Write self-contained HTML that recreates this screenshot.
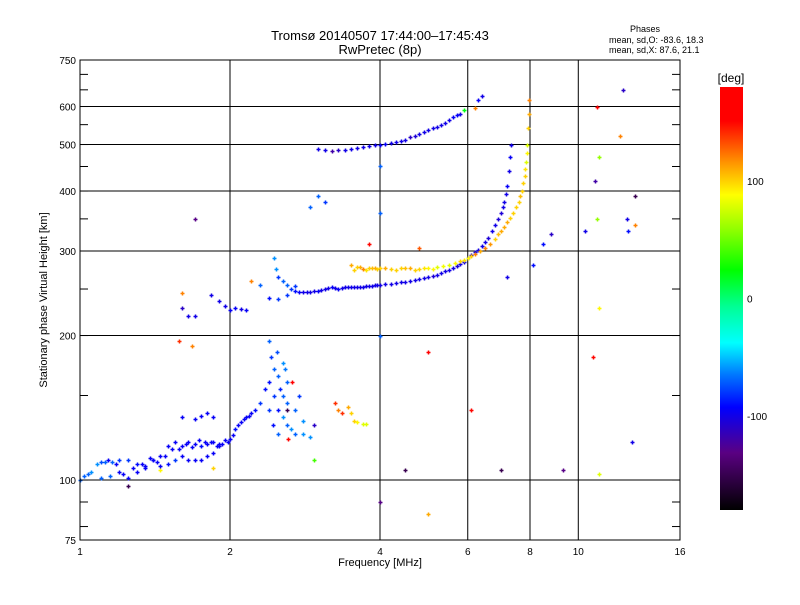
<!DOCTYPE html>
<html><head><meta charset="utf-8"><style>
body{margin:0;background:#fff;}
svg text{font-family:"Liberation Sans",sans-serif;fill:#000;}
</style></head><body>
<svg id="c" width="800" height="600" xmlns="http://www.w3.org/2000/svg">
<rect width="800" height="600" fill="#fff"/>
<text x="380" y="40" font-size="13" text-anchor="middle">Tromsø 20140507 17:44:00–17:45:43</text>
<text x="380" y="54" font-size="13" text-anchor="middle">RwPretec (8p)</text>
<text x="645" y="32" font-size="9" text-anchor="middle">Phases</text>
<text x="609" y="43" font-size="9">mean, sd,O: -83.6, 18.3</text>
<text x="609" y="53" font-size="9">mean, sd,X:  87.6, 21.1</text>
<g id="grid"></g>
<g id="pts"></g>
<rect x="80" y="60" width="600" height="480" fill="none" stroke="#000" stroke-width="1"/>
<g id="axes"></g>
<text x="380" y="566" font-size="11" text-anchor="middle">Frequency [MHz]</text>
<text transform="translate(47,300) rotate(-90)" font-size="11" text-anchor="middle">Stationary phase Virtual Height [km]</text>
<defs><linearGradient id="cg" x1="0" y1="1" x2="0" y2="0"></linearGradient></defs>
<rect x="720" y="87" width="23" height="423" fill="url(#cg)"/>
<text x="731" y="82" font-size="12" text-anchor="middle">[deg]</text>
<g id="cbax"></g>
</svg>
<script>
const NS="http://www.w3.org/2000/svg";
const xTicks=[1,2,4,6,8,10,16];
const yTicks=[75,100,200,300,400,500,600,750];
const yMinor=[80,90,100,150,200,250,300,350,400,450,500,550,600,650,700];
const cbTicks=[100,0,-100];
const freq=[1.02,1.05,1.08,1.12,1.16,1.2,1.25,1.3,1.35,1.4,1.45,1.5,1.55,1.6,1.65,1.7,1.75,1.8,1.85,1.9,
1.0,1.1,1.15,1.2,1.25,1.3,1.35,1.4,1.45,1.5,1.55,1.6,1.65,1.7,1.75,1.8,1.85,1.9,1.95,2.0,2.05,2.1,2.15,2.2,
1.6,1.7,1.75,1.8,1.85,
2.4,2.42,2.45,2.4,2.5,2.45,2.55,2.5,2.6,2.35,2.4,2.55,2.6,2.65,2.7,2.8,2.9,2.7,2.75,2.6,2.55,2.3,2.5,2.62,2.8,2.95,2.66,2.6,2.48,2.52,2.58,2.44,
3.3,3.35,3.45,3.5,3.55,3.6,3.7,3.75,3.25,
2.4,2.5,2.6,2.7,2.8,2.9,3.0,3.1,3.2,3.3,3.4,3.5,3.6,3.7,3.8,3.9,4.0,4.2,4.4,4.6,4.8,5.0,5.2,5.4,5.6,5.8,6.0,6.2,6.4,6.6,6.8,7.0,7.1,7.2,7.25,7.3,7.32,
2.45,2.47,2.5,2.55,2.6,2.7,2.3,
1.83,1.9,1.95,2.0,2.05,2.1,2.15,1.65,1.7,1.6,
3.5,3.6,3.7,3.8,3.9,4.0,4.2,4.4,4.6,4.8,5.0,5.2,5.5,5.8,6.0,6.2,6.5,6.8,7.0,7.2,7.4,7.6,7.7,7.8,7.85,7.9,7.93,7.95,7.97,
3.0,3.2,3.4,3.6,3.8,4.0,4.2,4.4,4.6,4.8,5.0,5.2,5.4,5.6,5.8,5.9,6.3,6.4,6.2,
1.7,1.6,2.2,3.0,3.1,2.9,4.0,4.0,4.0,4.5,5.0,4.0,3.8,4.8,5.0,6.1,7.0,7.2,8.5,8.8,9.3,10.3,10.9,10.8,11.0,10.9,10.7,11.0,11.0,12.1,12.3,12.5,12.6,12.8,13.0,13.0,8.1,1.45,1.58,1.68,1.85,2.95,1.25,
1.04,1.1,1.14,1.18,1.22,1.28,1.33,1.38,1.43,1.48,1.53,1.58,1.63,1.68,1.73,1.78,1.83,1.88,1.93,1.98,2.03,2.08,2.13,2.18,2.25,
2.65,2.75,2.85,2.95,3.05,3.15,3.25,3.35,3.45,3.55,3.65,3.75,3.85,3.95,4.1,4.3,4.5,4.7,4.9,5.1,5.3,5.5,5.7,5.9,6.1,6.3,6.5,6.7,6.9,7.05,7.15,
3.55,3.65,3.75,3.85,3.95,4.1,4.3,4.5,4.7,4.9,5.1,5.35,5.65,5.9,6.1,6.35,6.65,6.9,7.1,7.3,7.5,7.65,7.75,7.82,7.88,
3.1,3.3,3.5,3.7,3.9,4.1,4.3,4.5,4.7,4.9,5.1,5.3,5.5,5.7];
const height=[102,104,108,109,109,110,110,108,106,110,112,118,120,118,120,119,118,119,120,119,
100,101,102,104,101,104,107,110,107,108,110,112,110,110,110,112,114,118,121,122,128,132,135,138,
135,134,136,138,135,
195,180,170,160,165,150,150,140,145,155,140,135,130,128,125,125,123,140,150,160,175,145,125,122,133,130,160,140,185,155,170,130,
140,138,142,138,133,132,131,131,145,
240,238,243,248,246,247,248,250,252,250,252,252,253,253,254,255,255,256,258,260,262,265,268,272,276,282,290,298,308,320,340,360,380,410,440,470,500,
290,275,265,260,255,254,255,
243,236,230,226,228,227,226,220,220,228,
280,278,275,276,277,276,275,276,276,275,276,278,281,286,290,296,305,318,330,345,360,380,400,430,460,500,540,580,620,
490,485,488,492,496,500,503,508,518,525,535,545,555,570,580,590,620,630,595,
350,245,260,390,380,370,450,360,200,105,85,90,310,305,185,140,105,265,310,325,105,330,600,420,470,350,180,103,228,520,650,350,330,120,390,340,280,105,195,190,106,110,97,
103,109,110,108,103,106,108,111,109,112,116,116,119,117,121,120,120,118,119,120,124,130,134,136,140,
250,247,247,248,249,251,251,251,252,252,253,254,254,255,256,257,259,261,263,266,270,274,279,285,294,302,314,330,350,370,395,
274,278,274,277,275,277,274,277,274,276,275,279,283,288,293,300,310,325,337,352,370,390,415,445,480,
487,487,490,494,498,502,505,512,521,530,540,550,562,575];
const phase=[-70,-60,-60,-70,-70,-80,-80,-90,-95,-95,-95,-95,-95,-95,-95,-95,-90,-95,-95,-95,
-70,-70,-70,-95,-95,-95,-95,-95,-95,-90,-80,-95,-95,-95,-95,-95,-95,-95,-95,-95,-90,-95,-95,-95,
-95,-95,-95,-95,-95,
-70,-80,-70,-90,-70,-80,-70,-90,-70,-90,-80,-60,-70,-60,-70,-60,-60,-70,-80,-70,-60,-80,-70,150,-60,-110,160,-150,-75,-85,-65,-90,
120,140,110,100,100,90,80,80,140,
-90,-80,-80,-90,-100,-100,-95,-100,-95,-95,-100,-100,-100,-100,-100,-100,-100,-100,-100,-100,-100,-100,-100,-100,-100,-100,-105,-100,-100,-105,-100,-105,-100,-95,-100,-95,-100,
-60,-60,-80,-70,-70,-80,-70,
-100,-100,-100,-95,-95,-100,-95,-100,-100,-110,
110,100,120,100,110,100,100,100,110,100,90,80,80,100,90,120,120,100,110,110,100,100,100,100,80,80,100,110,120,
-100,-120,-100,-100,-100,-95,-100,-100,-110,-100,-100,-100,-100,-95,-100,20,-95,-100,120,
-130,120,120,-70,-80,-70,-70,-70,-70,-150,110,-130,150,130,160,150,-150,-100,-90,-110,-130,-100,160,-120,60,60,150,80,90,120,-110,-100,-90,-100,-150,120,-90,90,140,120,100,40,-150,
-70,-75,-95,-95,-95,-95,-95,-95,-95,-95,-95,-95,-95,-95,-95,-95,-95,-95,-95,-95,-95,-95,-95,-95,-90,
-80,-95,-100,-100,-100,-100,-100,-100,-100,-100,-100,-100,-100,-100,-100,-100,-100,-100,-100,-105,-100,-100,-105,-100,-110,-100,-100,-100,-105,-100,-100,
100,110,95,105,100,110,100,105,100,95,90,85,90,95,100,110,115,105,110,100,100,105,100,95,90,
-100,-110,-100,-100,-100,-95,-100,-100,-105,-100,-100,-100,-100,-95];

const X0=80,X1=680,Y0=540,Y1=60;
function xs(f){return X0+(X1-X0)*Math.log2(f)/4;}
function ys(h){return Y0-(Y0-Y1)*Math.log10(h/75);}
function cy(p){return 510-(p+180)/360*423;}
const stops=[[0,[0,0,0]],[0.135,[90,0,130]],[0.243,[0,0,255]],[0.32,[0,120,255]],[0.395,[0,255,255]],[0.48,[0,255,150]],[0.567,[0,255,0]],[0.66,[140,255,0]],[0.745,[255,255,0]],[0.82,[255,150,0]],[0.92,[255,0,0]],[1,[255,0,0]]];
function col(p){let t=Math.max(0,Math.min(1,(p+180)/360));for(let i=1;i<stops.length;i++){if(t<=stops[i][0]){const a=stops[i-1],b=stops[i],u=(t-a[0])/(b[0]-a[0]);const c=a[1].map((v,k)=>Math.round(v+(b[1][k]-v)*u));return `rgb(${c.join(',')})`;}}return 'rgb(255,0,0)';}
function mk(tag,attrs,parent){const e=document.createElementNS(NS,tag);for(const k in attrs)e.setAttribute(k,attrs[k]);parent.appendChild(e);return e;}
const grid=document.getElementById('grid'),axes=document.getElementById('axes'),pts=document.getElementById('pts'),cbax=document.getElementById('cbax');
const cg=document.getElementById('cg');
stops.forEach(s=>{mk('stop',{offset:s[0],'stop-color':`rgb(${s[1].join(',')})`},cg);});
xTicks.forEach(f=>{const x=xs(f);
 if(f>1&&f<16){const l=mk('line',{x1:x,x2:x,y1:Y1,y2:Y0,stroke:'#000','stroke-width':1},grid);}
 const t=mk('text',{x:x,y:Y0+15,'font-size':10,'text-anchor':'middle'},axes);t.textContent=f;
 });
yTicks.forEach(h=>{const y=ys(h);
 if(h>75&&h<750){const l=mk('line',{x1:X0,x2:X1,y1:y,y2:y,stroke:'#000','stroke-width':1},grid);}
 const t=mk('text',{x:X0-4,y:y+4,'font-size':10,'text-anchor':'end'},axes);t.textContent=h;
 });
yMinor.forEach(h=>{const y=ys(h);const l=mk('line',{x1:X0,x2:X0+8,y1:y,y2:y,stroke:'#000'},axes);
 const r=mk('line',{x1:X1,x2:X1-8,y1:y,y2:y,stroke:'#000'},axes);});
for(let i=0;i<freq.length;i++){const x=Math.round(xs(freq[i]))+0.5,y=Math.round(ys(height[i]))+0.5;
 const p=mk('path',{d:`M${x-2},${y}h4M${x},${y-2}v4`,stroke:col(phase[i]),'stroke-width':1.5,fill:'none'},pts);
 }
cbTicks.forEach(v=>{const y=cy(v);
 const t=mk('text',{x:747,y:y+4,'font-size':10},cbax);t.textContent=v;
 });
</script>
</body></html>
